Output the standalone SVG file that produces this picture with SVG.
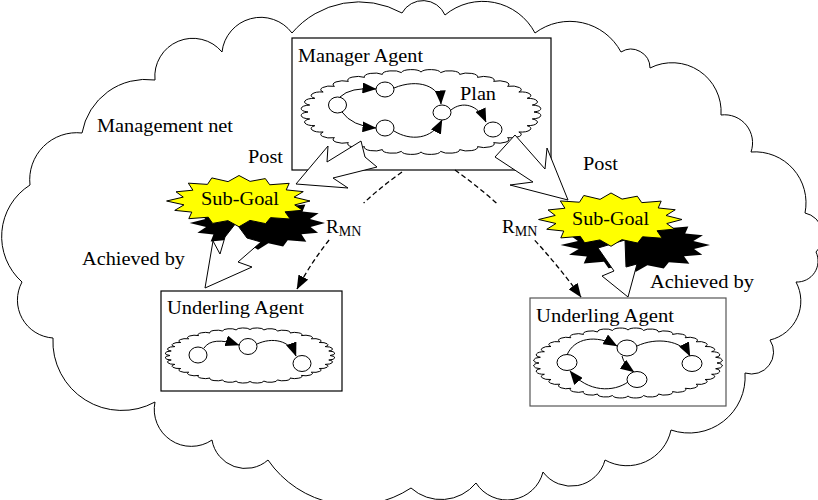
<svg xmlns="http://www.w3.org/2000/svg" xmlns:xlink="http://www.w3.org/1999/xlink" width="818" height="500" viewBox="0 0 818 500">
<style>
text{font-family:"Liberation Serif","Times New Roman",serif;font-size:19px;fill:#000}
.ln{fill:none;stroke:#000;stroke-width:1}
.box{fill:#fff;stroke:#000;stroke-width:1.2}
.nd{fill:#fff;stroke:#000;stroke-width:1}
.big{fill:#fff;stroke:#000;stroke-width:1;stroke-linejoin:miter}
.dash{fill:none;stroke:#000;stroke-width:1.3;stroke-dasharray:5,3}
</style>
<defs>
<path id="cloud" fill="#fff" stroke="#000" stroke-width="1" vector-effect="non-scaling-stroke" d="M1,0 A.09,.09 0 0 1 .9848,.1736 A.09,.09 0 0 1 .9397,.3420 A.09,.09 0 0 1 .8660,.5 A.09,.09 0 0 1 .7660,.6428 A.09,.09 0 0 1 .6428,.7660 A.09,.09 0 0 1 .5,.8660 A.09,.09 0 0 1 .3420,.9397 A.09,.09 0 0 1 .1736,.9848 A.09,.09 0 0 1 0,1 A.09,.09 0 0 1 -.1736,.9848 A.09,.09 0 0 1 -.3420,.9397 A.09,.09 0 0 1 -.5,.8660 A.09,.09 0 0 1 -.6428,.7660 A.09,.09 0 0 1 -.7660,.6428 A.09,.09 0 0 1 -.8660,.5 A.09,.09 0 0 1 -.9397,.3420 A.09,.09 0 0 1 -.9848,.1736 A.09,.09 0 0 1 -1,0 A.09,.09 0 0 1 -.9848,-.1736 A.09,.09 0 0 1 -.9397,-.3420 A.09,.09 0 0 1 -.8660,-.5 A.09,.09 0 0 1 -.7660,-.6428 A.09,.09 0 0 1 -.6428,-.7660 A.09,.09 0 0 1 -.5,-.8660 A.09,.09 0 0 1 -.3420,-.9397 A.09,.09 0 0 1 -.1736,-.9848 A.09,.09 0 0 1 0,-1 A.09,.09 0 0 1 .1736,-.9848 A.09,.09 0 0 1 .3420,-.9397 A.09,.09 0 0 1 .5,-.8660 A.09,.09 0 0 1 .6428,-.7660 A.09,.09 0 0 1 .7660,-.6428 A.09,.09 0 0 1 .8660,-.5 A.09,.09 0 0 1 .9397,-.3420 A.09,.09 0 0 1 .9848,-.1736 A.09,.09 0 0 1 1,0 Z"/>
<polygon id="star" vector-effect="non-scaling-stroke" points="1,0 .785,.156 .896,.371 .649,.433 .721,.721 .444,.665 .375,.905 .154,.775 0,1.03 -.156,.785 -.371,.896 -.433,.649 -.707,.707 -.665,.444 -.905,.375 -.775,.154 -1.02,0 -.785,-.156 -.887,-.367 -.649,-.433 -.714,-.714 -.444,-.665 -.383,-.924 -.154,-.775 0,-1.02 .156,-.785 .371,-.896 .433,-.649 .707,-.707 .665,-.444 .905,-.375 .775,-.154"/>
<marker id="ah" viewBox="0 0 14 11" refX="13.5" refY="5.5" markerWidth="14" markerHeight="11" orient="auto" markerUnits="userSpaceOnUse"><path d="M0,0 L14,5.5 L0,11 z" fill="#000"/></marker>
<marker id="dh" viewBox="0 0 14 11" refX="13.5" refY="5.5" markerWidth="14" markerHeight="11" orient="auto" markerUnits="userSpaceOnUse"><path d="M0,0 L14,5.5 L0,11 z" fill="#000"/></marker>
</defs>
<rect x="0" y="0" width="818" height="500" fill="#fff"/>

<g id="management-net">
<path class="ln" d="M82,133 A65,65 0 0 1 155,80 A38,38 0 0 1 222,52 A39,39 0 0 1 292,33 A88,88 0 0 1 402,13 A24,24 0 0 1 445,15 A59,59 0 0 1 535,33 A58,58 0 0 1 621,52 A19,19 0 0 1 650,68 A49,49 0 0 1 721,115 A28,28 0 0 1 751,152 A51,51 0 0 1 805,213 A23,23 0 0 1 816,252 A21,21 0 0 1 796,282 A40,40 0 0 1 770,340 A22,22 0 0 1 745,373 A56,56 0 0 1 671,430 A45,45 0 0 1 605,460 A35,35 0 0 1 543,472 A37,37 0 0 1 476,483 A45,45 0 0 1 411,488 A104,104 0 0 1 268,460 A34,34 0 0 1 212,440 A37,37 0 0 1 155,402 A69,69 0 0 1 53,338 A38,38 0 0 1 22,282 A61,61 0 0 1 30,185 A47,47 0 0 1 82,133 Z"/>
<text x="97" y="132" textLength="136" lengthAdjust="spacingAndGlyphs">Management net</text>
</g>

<g id="manager-agent">
<rect class="box" x="292" y="38" width="259" height="132"/>
<text x="298" y="62" textLength="125" lengthAdjust="spacingAndGlyphs">Manager Agent</text>
<use xlink:href="#cloud" href="#cloud" transform="translate(421,112) scale(113,40)"/>
<text x="460" y="100" textLength="36" lengthAdjust="spacingAndGlyphs">Plan</text>
<path class="ln" d="M340,97 Q350,87 376,89" marker-end="url(#ah)"/>
<path class="ln" d="M342,112 Q352,126 376,128" marker-end="url(#ah)"/>
<path class="ln" d="M394,88 C418,78 440,86 441,104" marker-end="url(#ah)"/>
<path class="ln" d="M394,131 C410,141 432,140 442,120" marker-end="url(#ah)"/>
<path class="ln" d="M451,110 C462,101 478,104 486,122" marker-end="url(#ah)"/>
<ellipse class="nd" cx="337.5" cy="105" rx="9" ry="8"/>
<ellipse class="nd" cx="385" cy="89.5" rx="9" ry="7.5"/>
<ellipse class="nd" cx="385" cy="128" rx="9" ry="8"/>
<ellipse class="nd" cx="442" cy="112.5" rx="9" ry="7.5"/>
<ellipse class="nd" cx="493" cy="129.5" rx="9" ry="7.5"/>
</g>

<g id="underling-agent-left">
<rect class="box" x="161" y="291" width="181" height="100"/>
<text x="167" y="314" textLength="137" lengthAdjust="spacingAndGlyphs">Underling Agent</text>
<use xlink:href="#cloud" href="#cloud" transform="translate(250,355.5) scale(80,26)"/>
<path class="ln" d="M204,348 Q212,336 239,345" marker-end="url(#ah)"/>
<path class="ln" d="M257,344 C272,337 290,340 296,356" marker-end="url(#ah)"/>
<ellipse class="nd" cx="198" cy="355" rx="9" ry="8"/>
<ellipse class="nd" cx="248" cy="346.5" rx="9" ry="8"/>
<ellipse class="nd" cx="302" cy="363.5" rx="9" ry="8"/>
</g>

<g id="underling-agent-right">
<rect class="box" x="530" y="298" width="196" height="108" style="stroke:#555"/>
<text x="536" y="322" textLength="138" lengthAdjust="spacingAndGlyphs">Underling Agent</text>
<use xlink:href="#cloud" href="#cloud" transform="translate(628,363) scale(89,33)"/>
<path class="ln" d="M567,355 C574,338 596,334 617,346" marker-end="url(#ah)"/>
<path class="ln" d="M622,356 Q624,365 634,372" marker-end="url(#ah)"/>
<path class="ln" d="M628,382 C614,392 588,393 570,371" marker-end="url(#ah)"/>
<path class="ln" d="M637,346 C656,337 682,340 690,356" marker-end="url(#ah)"/>
<ellipse class="nd" cx="567" cy="362.5" rx="10" ry="8"/>
<ellipse class="nd" cx="627" cy="348" rx="10" ry="8"/>
<ellipse class="nd" cx="637" cy="379.5" rx="10" ry="8"/>
<ellipse class="nd" cx="692" cy="363.5" rx="10" ry="8"/>
</g>

<g id="subgoal-shadows">
<use xlink:href="#star" href="#star" fill="#000" transform="translate(258,223) scale(67,26)"/>
<use xlink:href="#star" href="#star" fill="#000" transform="translate(636,245) scale(74,26)"/>
</g>

<g id="connectors">
<polygon class="big" points="296,184 328,146 327,162 361,141 365,157 377,167 333,178 348,188"/>
<polygon class="big" points="515,135 545,169 547,148 568,200 510,185 533,182 495,157"/>
<polygon class="big" points="205,288 213,241 220,254 225,237 236,223 247,238 261,242 238,262 252,267"/>
<polygon class="big" points="598,248 614,271 602,276 628,297 637,264 626,267 625,240"/>
<path class="dash" d="M402,172 Q381.3,186.7 363.6,203.1"/>
<path class="dash" d="M329.1,240 Q310.7,263.2 297,289" marker-end="url(#dh)"/>
<path class="dash" d="M455,170 Q476.5,185.4 496.4,203"/>
<path class="dash" d="M534.8,240.4 Q559.2,266.8 581,297" marker-end="url(#dh)"/>
<text x="248" y="163" textLength="35" lengthAdjust="spacingAndGlyphs">Post</text>
<text x="583" y="170" textLength="35" lengthAdjust="spacingAndGlyphs">Post</text>
<text x="82" y="265" textLength="103" lengthAdjust="spacingAndGlyphs">Achieved by</text>
<text x="650" y="288" textLength="104" lengthAdjust="spacingAndGlyphs">Achieved by</text>
<text x="326" y="233">R<tspan font-size="14" dy="3">MN</tspan></text>
<text x="502" y="233">R<tspan font-size="14" dy="3">MN</tspan></text>
</g>

<g id="subgoal-left">
<use xlink:href="#star" href="#star" fill="#ffff00" stroke="#000" stroke-width="1" transform="translate(239,201) scale(71,25)"/>
<text x="201" y="205" textLength="78" lengthAdjust="spacingAndGlyphs">Sub-Goal</text>
</g>

<g id="subgoal-right">
<use xlink:href="#star" href="#star" fill="#ffff00" stroke="#000" stroke-width="1" transform="translate(611,219.5) scale(71,26)"/>
<text x="572" y="225" textLength="77" lengthAdjust="spacingAndGlyphs">Sub-Goal</text>
</g>
</svg>
